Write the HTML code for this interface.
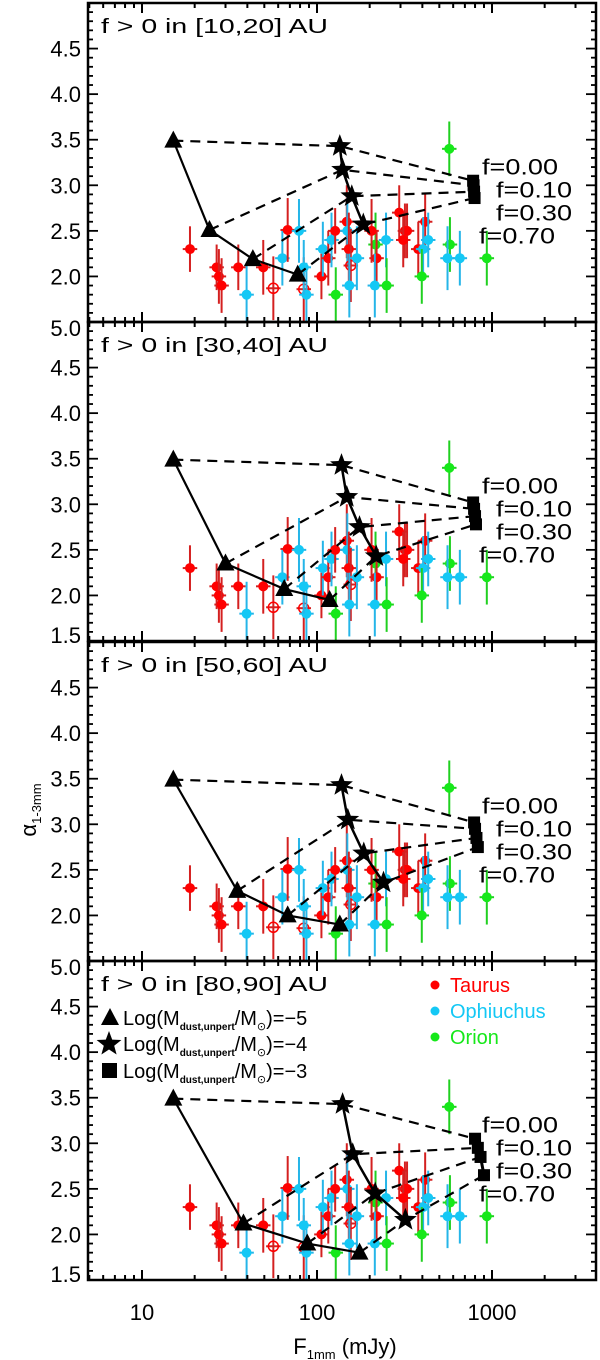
<!DOCTYPE html>
<html><head><meta charset="utf-8">
<style>
html,body{margin:0;padding:0;background:#fff;}
svg{display:block;font-family:"Liberation Sans","DejaVu Sans",sans-serif;}
</style></head>
<body>
<svg id="chart" width="600" height="1360" viewBox="0 0 600 1360" xmlns="http://www.w3.org/2000/svg"></svg>
<script>
// ---- observed data (same in every panel) ----
const obsFlux  = [18.8,26.7,27.5,28.5,35.5,39.6,49.3,56.3,63.4,68,78.9,84,87,84,106,108,116,121,127,128,148,149,152,156,153,169,216,219,205,214,248,250,295,318,327,311,415,379,404,432,397,575,557,655,934,570];
const obsAlpha = [2.30,2.10,2.00,1.90,2.10,1.80,2.10,1.87,2.20,2.51,2.50,1.86,1.80,2.10,2.00,2.30,2.20,2.40,2.50,1.80,2.60,2.50,2.30,2.12,1.90,2.20,2.35,2.20,2.50,1.90,2.40,1.90,2.70,2.50,2.50,2.40,2.60,2.30,2.30,2.40,2.00,2.35,2.20,2.20,2.20,3.40];
const obsErr   = [0.25,0.25,0.3,0.3,0.25,0.35,0.3,0.35,0.3,0.35,0.35,0.35,0.35,0.3,0.25,0.3,0.3,0.3,0.25,0.3,0.4,0.4,0.4,0.4,0.35,0.35,0.35,0.3,0.35,0.35,0.3,0.3,0.3,0.3,0.3,0.3,0.3,0.3,0.35,0.3,0.3,0.3,0.35,0.3,0.3,0.3];
const obsGroup = ["T","T","T","T","T","O","T","T","O","T","O","T","O","O","T","O","T","O","T","R","T","O","T","T","O","O","R","T","T","O","O","R","T","T","T","T","T","T","O","O","R","R","O","O","R","R"];
const obsOpen  = [0,0,0,0,0,0,0,1,0,0,0,1,0,0,0,0,0,0,0,0,0,0,0,1,0,0,0,0,0,0,0,0,0,0,0,0,0,0,0,0,0,0,0,0,0,0];
// ---- model tracks per panel (f = 0.00, 0.10, 0.30, 0.70) ----
const panelTitles = ["f > 0 in [10,20] AU","f > 0 in [30,40] AU","f > 0 in [50,60] AU","f > 0 in [80,90] AU"];
const triFlux  = [[15.1,24.3,43,77.6],[15.1,30,65,118],[15.1,35,68,135],[15.1,38,88,175]];
const triAlpha = [[3.49,2.51,2.19,2.02],[3.49,2.35,2.07,1.95],[3.49,2.27,2.00,1.90],[3.49,2.12,1.90,1.80]];
const starFlux  = [[135,140,158,184],[138,148,175,218],[138,150,185,240],[140,160,215,320]];
const starAlpha = [[3.43,3.17,2.88,2.57],[3.43,3.08,2.75,2.43],[3.43,3.05,2.68,2.36],[3.43,2.88,2.45,2.16]];
const sqFlux  = [[780,785,790,795],[780,790,800,810],[790,800,815,830],[800,830,860,900]];
const sqAlpha = [[3.05,3.00,2.93,2.86],[3.02,2.95,2.87,2.78],[3.02,2.95,2.85,2.75],[3.05,2.95,2.85,2.65]];
const fLabels = ["f=0.00","f=0.10","f=0.30","f=0.70"];
const xTickVals = [10,100,1000];
const xTickLabels = ["10","100","1000"];

const svg = document.getElementById('chart');
const NS = "http://www.w3.org/2000/svg";
function mk(tag, attrs, parent){ const e=document.createElementNS(NS,tag); for(const k in attrs) e.setAttribute(k,attrs[k]); (parent||svg).appendChild(e); return e; }

const X0=88, X1=596;
function xs(f){ return 142 + (Math.log10(f)-1)*175; }
const panelTops=[3,322,642,961];
const PH=319;
function ysF(top){ return v => top + (5.0 - v)*(PH/3.5); }
const colors={T:"#ff0000",O:"#14c8f5",R:"#16e81a"};
const errColors={T:"#d42020",O:"#25b5e8",R:"#20d020"};

function starPath(cx,cy,R){
  let d="";
  for(let i=0;i<10;i++){ const r=i%2?R*0.42:R; const a=-Math.PI/2+i*Math.PI/5; d+=(i?"L":"M")+(cx+r*Math.cos(a)).toFixed(1)+","+(cy+r*Math.sin(a)).toFixed(1); }
  return d+"Z";
}

for(let p=0;p<4;p++){
  const top=panelTops[p], bot=top+PH, ys=ysF(top);
  const g=mk('g',{});
  
  
  for(let i=0;i<obsFlux.length;i++){
    const cx=xs(obsFlux[i]), cy=ys(obsAlpha[i]);
    const c=colors[obsGroup[i]], ec=errColors[obsGroup[i]];
    const pg=mk('g',{},g);
    
    
    const e=obsErr[i]*(PH/3.5);
    mk('line',{x1:cx,y1:Math.max(top,cy-e),x2:cx,y2:Math.min(bot,cy+e),stroke:ec,'stroke-width':2},pg);
    const hx=xs(obsFlux[i]*1.1)-cx;
    mk('line',{x1:cx-hx,y1:cy,x2:cx+hx,y2:cy,stroke:ec,'stroke-width':2},pg);
    if(obsOpen[i]){
      mk('circle',{cx:cx,cy:cy,r:5,fill:'none',stroke:c,'stroke-width':1.5},pg);
    } else {
      mk('circle',{cx:cx,cy:cy,r:5,fill:c},pg);
    }
  }
  for(let k=0;k<4;k++){
    const dl=mk('polyline',{points:[[xs(triFlux[p][k]),ys(triAlpha[p][k])],[xs(starFlux[p][k]),ys(starAlpha[p][k])],[xs(sqFlux[p][k]),ys(sqAlpha[p][k])]].map(a=>a.join(',')).join(' '),fill:'none',stroke:'#000','stroke-width':2.2,'stroke-dasharray':'10,7'},g);
    
    
  }
  const tl=mk('polyline',{points:triFlux[p].map((f,k)=>xs(f)+','+ys(triAlpha[p][k])).join(' '),fill:'none',stroke:'#000','stroke-width':2.2},g);
  
  
  const sl=mk('polyline',{points:starFlux[p].map((f,k)=>xs(f)+','+ys(starAlpha[p][k])).join(' '),fill:'none',stroke:'#000','stroke-width':2.5},g);
  
  
  const ql=mk('polyline',{points:sqFlux[p].map((f,k)=>xs(f)+','+ys(sqAlpha[p][k])).join(' '),fill:'none',stroke:'#000','stroke-width':3},g);
  
  
  for(let k=0;k<4;k++){
    const tx=xs(triFlux[p][k]), ty=ys(triAlpha[p][k]);
    const t=mk('polygon',{points:`${tx},${ty-10} ${tx-9},${ty+7} ${tx+9},${ty+7}`,fill:'#000'},g);
    
    
    const s=mk('path',{d:starPath(xs(starFlux[p][k]),ys(starAlpha[p][k]),12),fill:'#000'},g);
    
    
    const q=mk('rect',{x:xs(sqFlux[p][k])-6,y:ys(sqAlpha[p][k])-6,width:12,height:12,fill:'#000'},g);
    
    
  }
  const lx=[482,496,496,479];
  for(let k=0;k<4;k++){
    const t=mk('text',{x:lx[k],y:ys(3.05)-6+k*23,'font-size':22,fill:'#000',textLength:76,lengthAdjust:'spacingAndGlyphs'},g);
    t.textContent=fLabels[k];
    
    
  }
  const fr=mk('rect',{x:X0,y:top,width:X1-X0,height:PH,fill:'none',stroke:'#000','stroke-width':2.5},g);
  
  
  for(let d=0; d<4; d++){
    for(let m=1;m<10;m++){
      const v=m*Math.pow(10,d); const x=xs(v);
      if(x<=X0+1||x>=X1-1) continue;
      const L=(m===1)?10:5;
      mk('line',{x1:x,y1:bot,x2:x,y2:bot-L,stroke:'#000','stroke-width':2},g);
      mk('line',{x1:x,y1:top,x2:x,y2:top+L,stroke:'#000','stroke-width':2},g);
    }
  }
  const full=(p===1||p===3);
  for(let i=15;i<=50;i++){
    const v=i/10, y=ys(v); const L=(i%5===0)?10:5;
    mk('line',{x1:X0,y1:y,x2:X0+L,y2:y,stroke:'#000','stroke-width':1.8},g);
    mk('line',{x1:X1,y1:y,x2:X1-L,y2:y,stroke:'#000','stroke-width':1.8},g);
    if(i%5===0){
      if(!full && (i===50||i===15)) continue;
      let yy=y+8; if(i===50) yy=y+14; if(i===15) yy=y+2;
      const t=mk('text',{x:81,y:yy,'font-size':22,'text-anchor':'end',fill:'#000'},g);
      t.textContent=v.toFixed(1);
      
      
    }
  }
  const tt=mk('text',{x:101,y:top+30,'font-size':20,fill:'#000',textLength:227,lengthAdjust:'spacingAndGlyphs'},g);
  tt.textContent=panelTitles[p];
  
  
}

for(let i=0;i<xTickVals.length;i++){
  const t=mk('text',{x:xs(xTickVals[i]),y:1320,'font-size':22,'text-anchor':'middle',fill:'#000'});
  t.textContent=xTickLabels[i];
  
  
}
const xt=mk('text',{x:345,y:1354,'font-size':22,'text-anchor':'middle',fill:'#000'});
xt.innerHTML='F<tspan font-size="13" dy="5">1mm</tspan><tspan dy="-5"> (mJy)</tspan>';


const yt=mk('text',{x:0,y:0,'font-size':22,fill:'#000',transform:'translate(36,810) rotate(-90)','text-anchor':'middle'});
yt.innerHTML='α<tspan font-size="13" dy="5">1-3mm</tspan>';



const legSym=['tri','star','sq'], legVal=['-5','-4','-3'], legY=[1018,1044,1071];
for(let i=0;i<3;i++){
  const g=mk('g',{});
  
  
  const y=legY[i];
  if(legSym[i]==='tri') mk('polygon',{points:`110,${y-10} 101,${y+7} 119,${y+7}`,fill:'#000'},g);
  else if(legSym[i]==='star') mk('path',{d:starPath(109,y,13),fill:'#000'},g);
  else mk('rect',{x:102,y:y-8,width:15,height:15,fill:'#000'},g);
  const t=mk('text',{x:123,y:y+7,'font-size':20,fill:'#000'},g);
  t.innerHTML='Log(M<tspan font-size="10" dy="5" font-weight="bold">dust,unpert</tspan><tspan dy="-5">/M</tspan><tspan font-size="11" dy="5">⊙</tspan><tspan dy="-5">)=−'+legVal[i].slice(1)+'</tspan>';
}
const grpNames=['Taurus','Ophiuchus','Orion'], grpKeys=['T','O','R'], grpY=[985,1011,1037];
for(let i=0;i<3;i++){
  const g=mk('g',{});
  
  
  mk('circle',{cx:435,cy:grpY[i],r:4.5,fill:colors[grpKeys[i]]},g);
  const t=mk('text',{x:450,y:grpY[i]+7,'font-size':20,fill:colors[grpKeys[i]]},g);
  t.textContent=grpNames[i];
}
</script>
</body></html>
